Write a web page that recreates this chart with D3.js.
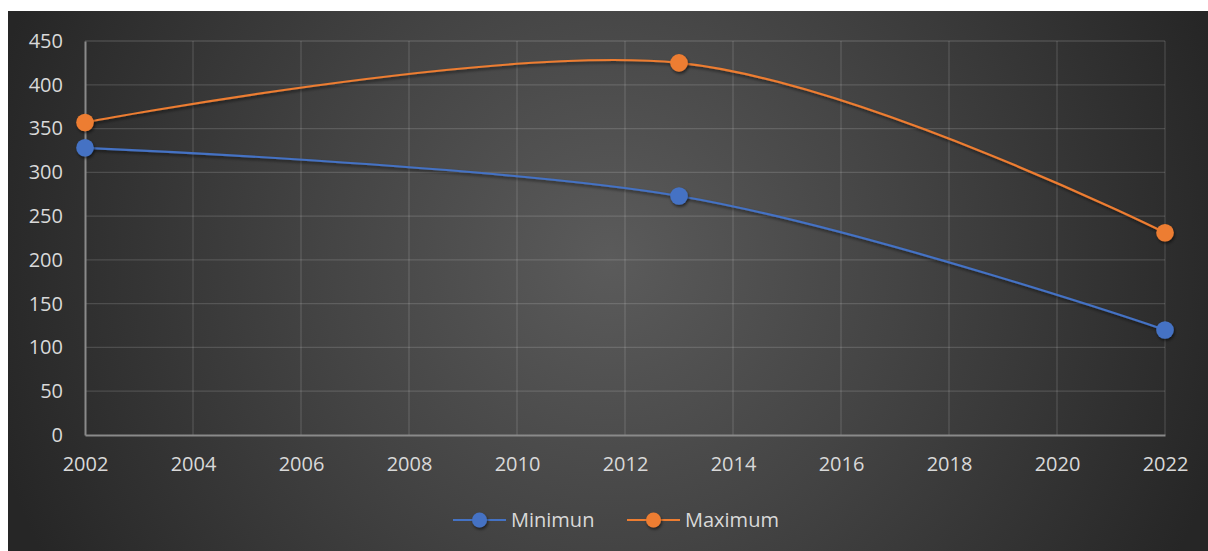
<!DOCTYPE html>
<html>
<head>
<meta charset="utf-8">
<script src="https://cdn.jsdelivr.net/npm/d3@7"></script>
<style>
  html, body { margin: 0; padding: 0; background: #ffffff; }
  svg { display: block; }
</style>
</head>
<body>
<svg id="chart" width="1208" height="551"></svg>
<script>
// Chart data
const years = [2002, 2013, 2022];
const minimumValues = [328, 273, 120];
const maximumValues = [357, 425, 231];
const seriesNames = ["Minimun", "Maximum"];
const yTicks = [0, 50, 100, 150, 200, 250, 300, 350, 400, 450];
const xTicks = [2002, 2004, 2006, 2008, 2010, 2012, 2014, 2016, 2018, 2020, 2022];

const colors = { Minimun: "#4472C4", Maximum: "#ED7D31" };
const fontFamily = "'Open Sans', 'Noto Sans', sans-serif";

const svg = d3.select("#chart");
const W = 1208, H = 551;

// Background: dark radial gradient
const defs = svg.append("defs");
const grad = defs.append("radialGradient")
  .attr("id", "bg")
  .attr("gradientUnits", "userSpaceOnUse")
  .attr("cx", 610).attr("cy", 260).attr("r", 640);
grad.append("stop").attr("offset", "0%").attr("stop-color", "#5b5b5b");
grad.append("stop").attr("offset", "45%").attr("stop-color", "#444444");
grad.append("stop").attr("offset", "100%").attr("stop-color", "#262626");

const shadow = defs.append("filter").attr("id", "shadow")
  .attr("x", "-50%").attr("y", "-50%").attr("width", "200%").attr("height", "200%");
shadow.append("feDropShadow")
  .attr("dx", 1).attr("dy", 2).attr("stdDeviation", 1.6)
  .attr("flood-color", "#000").attr("flood-opacity", 0.55);

svg.append("rect")
  .attr("x", 8).attr("y", 11)
  .attr("width", W - 8).attr("height", H - 11)
  .attr("fill", "url(#bg)");

// Scales
const x = d3.scaleLinear().domain([2002, 2022]).range([85, 1165]);
const y = d3.scaleLinear().domain([0, 450]).range([435, 41]);

// Gridlines
const grid = svg.append("g");
grid.selectAll("line.h")
  .data(yTicks.filter(d => d > 0))
  .join("line")
  .attr("x1", x(2002)).attr("x2", x(2022))
  .attr("y1", d => y(d)).attr("y2", d => y(d))
  .attr("stroke", "rgba(255,255,255,0.14)")
  .attr("stroke-width", 1.3);
grid.selectAll("line.v")
  .data(xTicks.filter(d => d > 2002))
  .join("line")
  .attr("x1", d => x(d)).attr("x2", d => x(d))
  .attr("y1", y(450)).attr("y2", y(0))
  .attr("stroke", "rgba(255,255,255,0.14)")
  .attr("stroke-width", 1.3);

// Axes
const xAxis = d3.axisBottom(x).tickValues(xTicks).tickFormat(d3.format("d")).tickSize(0).tickPadding(22);
const yAxis = d3.axisLeft(y).tickValues(yTicks).tickSize(0).tickPadding(22);

const gx = svg.append("g").attr("transform", `translate(0,${y(0)})`).call(xAxis);
const gy = svg.append("g").attr("transform", `translate(${x(2002)},0)`).call(yAxis);

[gx, gy].forEach(g => {
  g.select(".domain").attr("stroke", "#8a8a8a").attr("stroke-width", 2);
  g.selectAll("text")
    .attr("fill", "#d9d9d9")
    .style("font-family", fontFamily)
    .style("font-size", "20px");
});

// Series
const series = [
  { name: "Minimun", values: minimumValues },
  { name: "Maximum", values: maximumValues }
];

const line = d3.line()
  .x(d => x(d.year))
  .y(d => y(d.value))
  .curve(d3.curveCardinal.tension(0));

series.forEach(s => {
  const pts = years.map((yr, i) => ({ year: yr, value: s.values[i] }));
  const g = svg.append("g");
  g.append("path")
    .datum(pts)
    .attr("d", line)
    .attr("fill", "none")
    .attr("stroke", colors[s.name])
    .attr("stroke-width", 2.2)
    .attr("filter", "url(#shadow)");
  g.selectAll("circle")
    .data(pts)
    .join("circle")
    .attr("cx", d => x(d.year))
    .attr("cy", d => y(d.value))
    .attr("r", 8.8)
    .attr("fill", colors[s.name])
    .attr("filter", "url(#shadow)");
});

// Legend
const legendItems = [
  { name: seriesNames[0], x: 453 },
  { name: seriesNames[1], x: 627 }
];
const legend = svg.append("g").attr("transform", "translate(0,520)");
legendItems.forEach(item => {
  const g = legend.append("g").attr("transform", `translate(${item.x},0)`);
  g.append("line")
    .attr("x1", 0).attr("x2", 53).attr("y1", 0).attr("y2", 0)
    .attr("stroke", colors[item.name]).attr("stroke-width", 2.2);
  g.append("circle")
    .attr("cx", 26.5).attr("cy", 0).attr("r", 7.5)
    .attr("fill", colors[item.name])
    .attr("filter", "url(#shadow)");
  g.append("text")
    .attr("x", 58).attr("y", 0)
    .attr("dy", "0.35em")
    .attr("fill", "#d9d9d9")
    .style("font-family", fontFamily)
    .style("font-size", "20px")
    .text(item.name);
});
</script>
</body>
</html>
